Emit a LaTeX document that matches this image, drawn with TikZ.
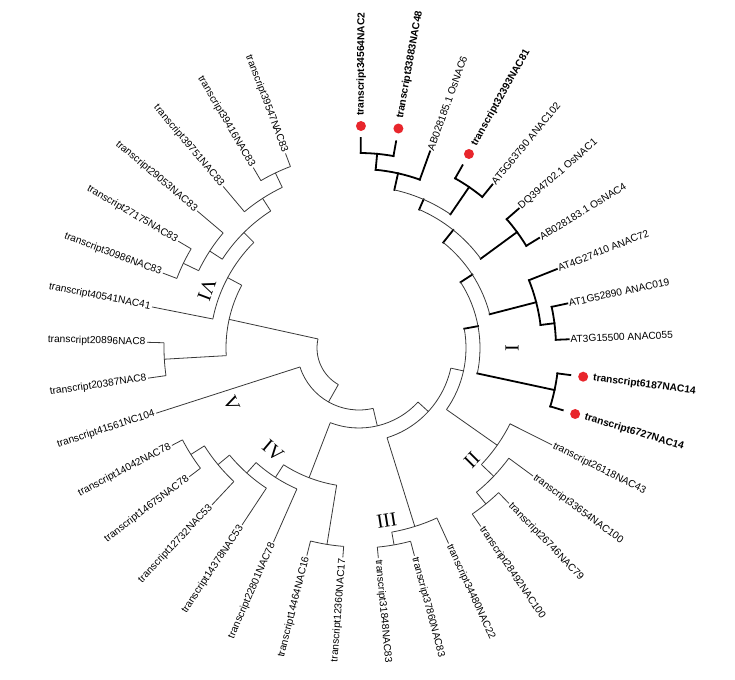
\documentclass[tikz,border=0pt]{standalone}
\usepackage{fontspec}
\setmainfont{Liberation Sans}
\newfontfamily\numfont{Liberation Serif}
\definecolor{dotred}{RGB}{232,38,44}
\begin{document}
\begin{tikzpicture}[x=1pt,y=1pt,
  tn/.style={line width=0.8pt, draw=black!78},
  tb/.style={line width=1.8pt, draw=black, line cap=rect},
  lab/.style={font=\fontsize{10.2}{12}\selectfont, inner sep=1.5pt, text=black},
  labb/.style={font=\fontsize{10.2}{12}\selectfont\bfseries, inner sep=1.5pt, text=black},
  reddot/.style={circle, fill=dotred, draw=none, minimum size=10pt, inner sep=0pt},
  numl/.style={font=\numfont\fontsize{20}{22}\selectfont, inner sep=0pt}
]
\useasboundingbox (0,0) rectangle (735,679);
\begin{scope}[shift={(359,331)}]
% internal branches: name/angle/parent radius/radius/style
\foreach \nm/\ang/\rp/\rr/\st in {
A/-192.43/42/133/tn, B/-119.48/42/62/tn, V2/-176.7/133/195/tn, Z/-208.16/133/149/tn,
Y/-225.1/149/163/tn, X/-213/163/178/tn, T/-205.74/178/195/tn, M/-237.2/163/178/tn,
P39/-244.46/178/194/tn, C/-76.78/62/80/tn, IV/-111.06/80/139/tn, H/-122.86/139/154/tn,
K/-131.93/154/168/tn, J/-140.4/168/183/tn, Q/-147.66/183/199/tn, P12/-99.26/139/199/tn,
D/-42.5/80/94/tn, III/-72.64/94/187/tn, P37/-79.9/187/200/tn, E/-12.37/94/107/tn,
II/-35.13/107/169/tn, F/-43.6/169/186/tn, G/-50.86/186/201/tn,
I0/10.4/107/121/tb, I1/32.94/121/135/tb, P14/-12.14/121/200/tb, I2/51.39/135/151/tb,
ANAC/14.48/135/183/tb, P19/7.22/183/197/tb, OsP/36.26/151/196/tb, N2/66.51/151/162/tb,
P32/55.62/162/195/tb, N1/77.4/162/179/tb, P2/84.66/179/195/tb}{
  \coordinate (\nm-b) at (\ang:\rp);
  \coordinate (\nm) at (\ang:\rr);
  \draw[\st] (\nm-b) -- (\nm);
}
% right-side leaves
\foreach \nm/\ang/\rp/\rr/\st/\tx in {
L3/70.14/179/209/tb/AB028185.1 OsNAC6,
L5/50.78/195/211/tb/AT5G63790 ANAC102,
L6/41.10/196/212/tb/DQ394702.1 OsNAC1,
L7/31.42/196/211/tb/AB028183.1 OsNAC4,
L8/21.74/183/213/tb/AT4G27410 ANAC72,
L9/12.06/197/213/tb/AT1G52890 ANAC019,
L10/2.38/197/210/tb/AT3G15500 ANAC055,
L13/-26.66/169/216/tn/transcript26118NAC43,
L14/-36.34/186/216/tn/transcript33654NAC100,
L15/-46.02/201/216/tn/transcript26746NAC79,
L16/-55.70/201/216/tn/transcript28492NAC100,
L17/-65.38/187/215/tn/transcript34480NAC22,
L18/-75.06/200/215/tn/transcript37860NAC83,
L19/-84.74/200/211/tn/transcript31848NAC83}{
  \coordinate (\nm-b) at (\ang:\rp);
  \coordinate (\nm) at (\ang:\rr);
  \draw[\st] (\nm-b) -- (\nm);
  \node[lab, anchor=west, rotate=\ang] (\nm-t) at (\nm) {\tx};
}
% marked leaves
\foreach \nm/\ang/\rp/\rr/\dr/\tx in {
L1/89.5/195/210/222/transcript34564NAC2,
L2/79.82/195/210/223/transcript33883NAC48,
L4/60.46/195/210/223/transcript32393NAC81,
L11/-7.30/200/213/226/transcript6187NAC14,
L12/-16.98/200/213/226/transcript6727NAC14}{
  \coordinate (\nm-b) at (\ang:\rp);
  \coordinate (\nm) at (\ang:\rr);
  \draw[tb] (\nm-b) -- (\nm);
  \node[reddot] (\nm-d) at (\ang:\dr) {};
  \pgfmathsetmacro\lr{\dr+8.5}
  \node[labb, anchor=west, rotate=\ang] (\nm-t) at (\ang:\lr) {\tx};
}
% left-side leaves
\foreach \nm/\ang/\rp/\rr/\tx in {
L20/-94.42/199/210/transcript12360NAC17,
L21/-104.10/199/214/transcript14464NAC16,
L22/-113.78/154/212/transcript22801NAC78,
L23/-123.46/168/212/transcript14378NAC53,
L24/-133.14/183/215/transcript12732NAC53,
L25/-142.82/199/213/transcript14675NAC78,
L26/-152.50/199/211/transcript14042NAC78,
L27/-162.18/62/213/transcript41561NC104,
L28/-171.86/195/213/transcript20387NAC8,
L29/-181.54/195/212/transcript20896NAC8,
L30/-191.22/149/211/transcript40541NAC41,
L31/-200.90/195/210/transcript30986NAC83,
L32/-210.58/195/210/transcript27175NAC83,
L33/-220.26/178/212/transcript29053NAC83,
L34/-229.94/178/211/transcript39751NAC83,
L35/-239.62/194/209/transcript39416NAC83,
L36/-249.30/194/208/transcript39547NAC83}{
  \coordinate (\nm-b) at (\ang:\rp);
  \coordinate (\nm) at (\ang:\rr);
  \draw[tn] (\nm-b) -- (\nm);
  \pgfmathsetmacro\rot{\ang+180}
  \node[lab, anchor=east, rotate=\rot] (\nm-t) at (\nm) {\tx};
}
% arcs joining the children of each internal node
\foreach \nm/\aa/\ab/\rr/\st in {
A-b/-192.43/-119.48/42/tn, Z-b/-208.16/-176.7/133/tn, Y-b/-225.1/-191.22/149/tn,
M-b/-237.2/-213/163/tn, L33-b/-220.26/-205.74/178/tn, L32-b/-210.58/-200.9/195/tn,
P39-b/-244.46/-229.94/178/tn, L36-b/-249.3/-239.62/194/tn, L29-b/-181.54/-171.86/195/tn,
L27-b/-162.18/-76.78/62/tn, IV-b/-111.06/-42.5/80/tn, H-b/-122.86/-99.26/139/tn,
K-b/-131.93/-113.78/154/tn, J-b/-140.4/-123.46/168/tn, Q-b/-147.66/-133.14/183/tn,
L26-b/-152.5/-142.82/199/tn, L21-b/-104.1/-94.42/199/tn, III-b/-72.64/-12.37/94/tn,
P37-b/-79.9/-65.38/187/tn, L19-b/-84.74/-75.06/200/tn, II-b/-35.13/10.4/107/tn,
F-b/-43.6/-26.66/169/tn, G-b/-50.86/-36.34/186/tn, L16-b/-55.7/-46.02/201/tn,
P14-b/-12.14/32.94/121/tn, ANAC-b/14.48/51.39/135/tn, OsP-b/36.26/66.51/151/tn,
P32-b/55.62/77.4/162/tn, L3-b/70.14/84.66/179/tb, L2-b/79.82/89.5/195/tb,
L5-b/50.78/60.46/195/tb, L7-b/31.42/41.1/196/tb, P19-b/7.22/21.74/183/tb,
L10-b/2.38/12.06/197/tb, L12-b/-16.98/-7.3/200/tb}{
  \draw[\st] (\nm) arc[start angle=\aa, end angle=\ab, radius=\rr];
}
% clade labels
\node[numl, rotate=90] (cI) at (0:153) {I};
\node[numl, rotate=45.2] (cII) at (-44.8:159) {II};
\node[numl, rotate=9.1] (cIII) at (-80.9:175) {III};
\node[numl, rotate=-40.1] (cIV) at (-129.9:134) {IV};
\node[numl, rotate=-66.5] (cV) at (-156.5:139) {V};
\node[numl, rotate=249.2] (cVI) at (159.2:163) {VI};
\end{scope}
\end{tikzpicture}
\end{document}
